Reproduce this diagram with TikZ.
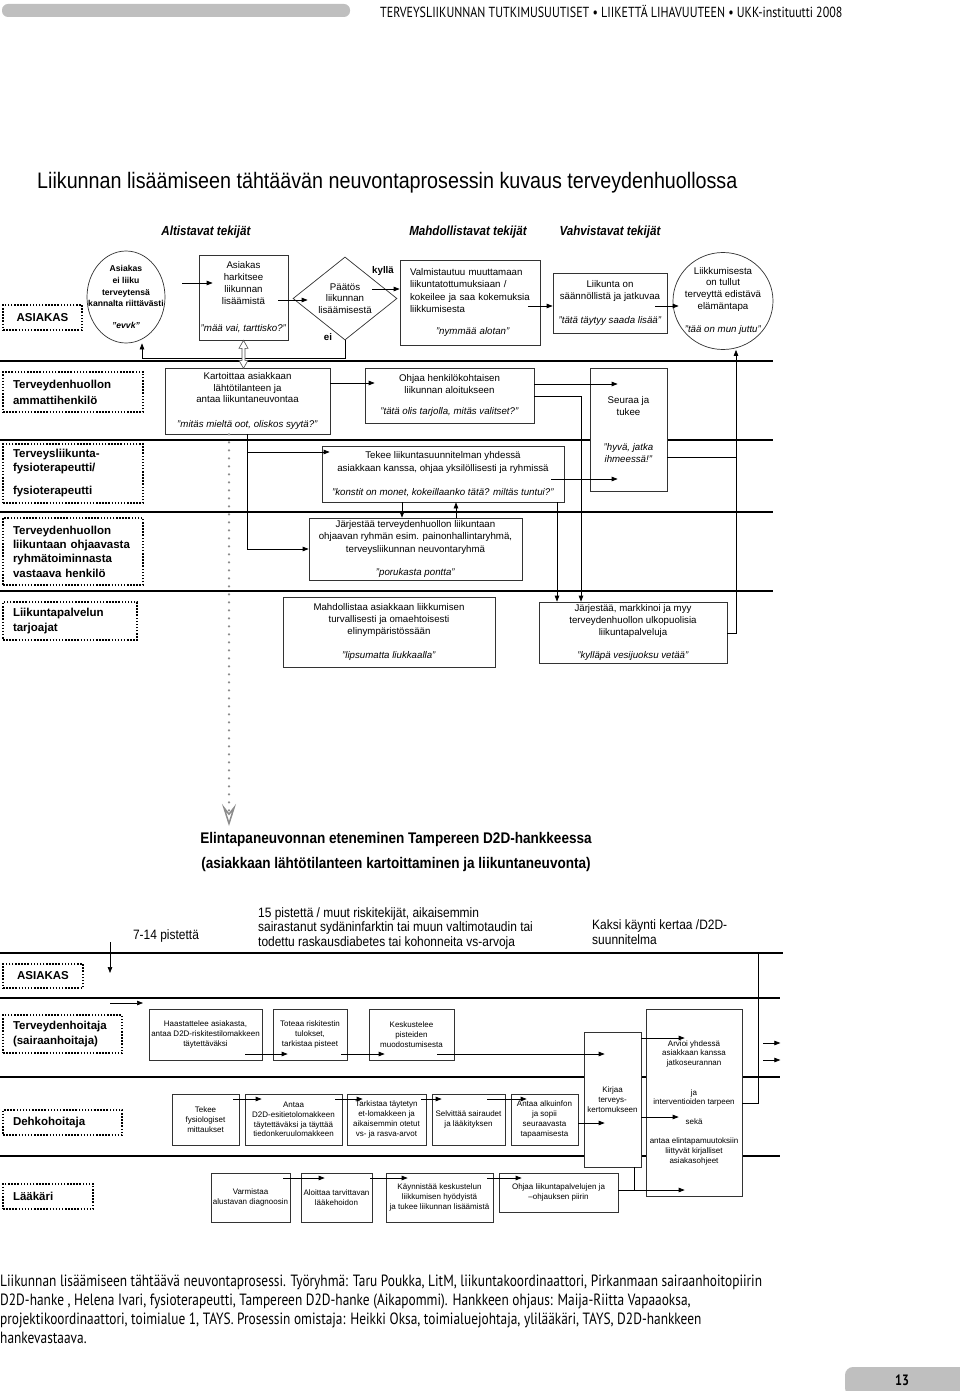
\documentclass[tikz,border=0pt]{standalone}
\usepackage{fontspec}
\setmainfont{Liberation Sans}
\newfontfamily\narrowfont{Liberation Sans}[FakeStretch=0.88]
\newfontfamily\condfont{PT Sans}[FakeStretch=0.82]
\usetikzlibrary{shapes.geometric,arrows.meta}

\begin{document}
\begin{tikzpicture}[x=1pt,y=-1pt,
  role/.style={draw,line width=1.5pt,dash pattern=on 1.5pt off 1.6pt,align=left,
    inner xsep=10pt,inner ysep=0pt,font=\fontsize{11.5}{16}\selectfont\bfseries},
  act/.style={draw=black!80,fill=white,line width=0.7pt,align=center,inner sep=0pt,
    font=\fontsize{9.7}{11.8}\selectfont},
  small/.style={act,font=\fontsize{8}{9.8}\selectfont},
  txt/.style={inner sep=0pt},
  lane/.style={line width=2pt},
  link/.style={line width=0.7pt},
  arr/.style={link,-{Triangle[length=6pt,width=4.5pt]}}]
  \useasboundingbox (0,0) rectangle (960,1391);

  \fill[black!25,rounded corners=6pt] (2,4) rectangle (350,17);
  \node[txt,anchor=west,font=\condfont\fontsize{14.6}{16}\selectfont] (lehti) at (380,11)
    {TERVEYSLIIKUNNAN TUTKIMUSUUTISET • LIIKETTÄ LIHAVUUTEEN • UKK-instituutti 2008};

  \node[txt,anchor=west,font=\narrowfont\fontsize{22.4}{26}\selectfont] (otsikko) at (37,183)
    {Liikunnan lisäämiseen tähtäävän neuvontaprosessin kuvaus terveydenhuollossa};
  \node[txt,font=\narrowfont\bfseries\itshape\fontsize{13.2}{15}\selectfont] (altist) at (206,232) {Altistavat tekijät};
  \node[txt,font=\narrowfont\bfseries\itshape\fontsize{13.2}{15}\selectfont] (mahdol) at (468,232) {Mahdollistavat tekijät};
  \node[txt,font=\narrowfont\bfseries\itshape\fontsize{13.2}{15}\selectfont] (vahvis) at (610,232) {Vahvistavat tekijät};

  \draw[lane] (0,361) -- (773,361);
  \draw[lane] (0,440) -- (773,440);
  \draw[lane] (0,512) -- (773,512);
  \draw[lane] (0,591) -- (773,591);

  \node[role,minimum width=79,minimum height=25] (asiakas) at (42.5,317.5) {ASIAKAS};
  \node[ellipse,draw=black!80,line width=0.7pt,fill=white,minimum width=78,minimum height=92,
    inner xsep=-11pt,inner ysep=-4pt,align=center,font=\fontsize{8.6}{11.8}\selectfont\bfseries] (evvk) at (126,297)
    {Asiakas\\ei liiku\\terveytensä\\kannalta riittävästi\\[10pt]\textit{”evvk”}};
  \node[act,minimum width=89,minimum height=85] (harkitsee) at (243.5,297.5)
    {Asiakas\\harkitsee\\liikunnan\\lisäämistä\\[16pt]\textit{”mää vai, tarttisko?”}};
  \node[diamond,draw=black!80,line width=0.7pt,fill=white,minimum width=104,minimum height=83,
    inner sep=0pt,aspect=1.25,align=center,font=\fontsize{9.7}{11.6}\selectfont] (paatos) at (345,298.5)
    {Päätös\\liikunnan\\lisäämisestä};
  \node[txt,font=\fontsize{9.7}{11}\selectfont\bfseries] (kylla) at (383,271) {kyllä};
  \node[txt,font=\fontsize{9.7}{11}\selectfont\bfseries] (ei) at (328,337) {ei};
  \node[act,align=left,text width=120,minimum width=140,minimum height=85,font=\fontsize{9.7}{12.4}\selectfont] (valmist) at (470,302.5)
    {Valmistautuu muuttamaan\\liikuntatottumuksiaan /\\kokeilee ja saa kokemuksia\\liikkumisesta\\[9.5pt]\hspace*{26pt}\textit{”nymmää alotan”}};
  \node[act,minimum width=114,minimum height=60] (saannol) at (610,303)
    {Liikunta on\\säännöllistä ja jatkuvaa\\[12pt]\textit{”tätä täytyy saada lisää”}};
  \node[ellipse,draw=black!80,line width=0.7pt,fill=white,minimum width=100,minimum height=97,
    inner xsep=-9pt,inner ysep=-4pt,align=center,font=\fontsize{9.7}{11.7}\selectfont] (elamant) at (723,301)
    {Liikkumisesta\\on tullut\\terveyttä edistävä\\elämäntapa\\[12pt]\textit{”tää on mun juttu”}};

  \node[role,text width=120,minimum height=40] (ammatti) at (73,392) {Terveydenhuollon\\ammattihenkilö};
  \node[role,text width=120,minimum height=59,font=\fontsize{11.5}{14}\selectfont\bfseries] (fysio) at (73,473.5)
    {Terveysliikunta-\\fysioterapeutti/\\[9pt]fysioterapeutti};
  \node[role,text width=120,minimum height=67,font=\fontsize{11.5}{14.3}\selectfont\bfseries] (ryhma) at (73,551.5)
    {Terveydenhuollon\\liikuntaan ohjaavasta\\ryhmätoiminnasta\\vastaava henkilö};
  \node[role,text width=114,minimum height=38,font=\fontsize{11.5}{15}\selectfont\bfseries] (tarjoaja) at (70,621)
    {Liikuntapalvelun\\tarjoajat};

  \node[act,minimum width=165,minimum height=66] (kartoit) at (247.5,401)
    {Kartoittaa asiakkaan\\lähtötilanteen ja\\antaa liikuntaneuvontaa\\[13pt]\textit{”mitäs mieltä oot, oliskos syytä?”}};
  \node[act,minimum width=169,minimum height=55] (ohjaa1) at (449.5,395.5)
    {Ohjaa henkilökohtaisen\\liikunnan aloitukseen\\[10pt]\textit{”tätä olis tarjolla, mitäs valitset?”}};
  \node[act,minimum width=77,minimum height=123,font=\fontsize{9.7}{12.2}\selectfont] (seuraa) at (628.5,429.5)
    {Seuraa ja\\tukee\\[23pt]\textit{”hyvä, jatka}\\\textit{ihmeessä!”}};
  \node[act,minimum width=242,minimum height=56,font=\fontsize{9.7}{12.8}\selectfont] (tekee1) at (443,474)
    {Tekee liikuntasuunnitelman yhdessä\\asiakkaan kanssa, ohjaa yksilöllisesti ja ryhmissä\\[11pt]\textit{”konstit on monet, kokeillaanko tätä? miltäs tuntui?”}};
  \node[act,minimum width=213,minimum height=62,font=\fontsize{9.7}{12.4}\selectfont] (jarj1) at (415.5,549)
    {Järjestää terveydenhuollon liikuntaan\\ohjaavan ryhmän esim. painonhallintaryhmä,\\terveysliikunnan neuvontaryhmä\\[11pt]\textit{”porukasta pontta”}};
  \node[act,minimum width=212,minimum height=70,font=\fontsize{9.7}{12.4}\selectfont] (mahd) at (389,632)
    {Mahdollistaa asiakkaan liikkumisen\\turvallisesti ja omaehtoisesti\\elinympäristössään\\[11.5pt]\textit{”lipsumatta liukkaalla”}};
  \node[act,minimum width=188,minimum height=61,font=\fontsize{9.7}{12}\selectfont] (jarj2) at (633,632.5)
    {Järjestää, markkinoi ja myy\\terveydenhuollon ulkopuolisia\\liikuntapalveluja\\[11pt]\textit{”kylläpä vesijuoksu vetää”}};

  \draw[arr] ([xshift=17]evvk.east |- 0,283) -- ([xshift=14]harkitsee.west |- 0,283);
  \draw[arr] ([xshift=-10]harkitsee.east |- 0,300) -- ([xshift=15]paatos.west |- 0,300);
  \draw[arr] ([xshift=-25]paatos.east |- 0,289) -- (valmist.west |- 0,289);
  \draw[arr] ([xshift=-12]valmist.east |- 0,306) -- (saannol.west |- 0,306);
  \draw[arr] ([xshift=-12]saannol.east |- 0,306) -- ([xshift=6]elamant.west |- 0,306);
  \draw[arr] (paatos.south) -- ++(0,18) -| ([xshift=16]evvk.south);
  \draw[draw=black!70,fill=white,line width=0.6pt] (harkitsee.south) -- ++(4.5,8) -- ++(-3,0) -- ++(0,12)
    -- ++(3,0) -- ++(-4.5,8) -- ++(-4.5,-8) -- ++(3,0) -- ++(0,-12) -- ++(-3,0) -- cycle;

  \draw[arr] (kartoit.east |- 0,383) -- ([xshift=10]ohjaa1.west |- 0,383);
  \draw[arr] (ohjaa1.east |- 0,384) -- ([xshift=28]seuraa.west |- 0,384);
  \draw[arr] (ohjaa1.east |- 0,396) -| ([xshift=-52]jarj2.north);
  \draw[arr] ([xshift=114]tekee1.south) -- ([xshift=114]tekee1.south |- jarj2.north);
  \draw[arr] (kartoit.south) |- (jarj1.west);
  \draw[arr] (kartoit.south |- 0,452) -- ([xshift=8]tekee1.west |- 0,452);
  \draw[arr] ([xshift=-13]tekee1.east |- 0,479) -- ([xshift=28]seuraa.west |- 0,479);
  \draw[link] (seuraa.east |- 0,457) -- ([xshift=13]elamant.south |- 0,457);
  \draw[arr] (jarj2.east |- 0,633) -| ([xshift=13]elamant.south);
  \draw[arr] ([xshift=-41]tekee1.south) -- ([xshift=-41]tekee1.south |- jarj1.north);
  \draw[arr] ([xshift=40.5]jarj1.north) -- ([xshift=40.5]jarj1.north |- tekee1.south);

  \coordinate (dotend) at (229,826);
  \draw[black!45,line width=2.5pt,line cap=round,dash pattern=on 0pt off 8pt,
    -{Stealth[open,length=22pt,width=14pt,inset=9pt,line width=1.5pt]}] (kartoit.south -| dotend) -- (dotend);

  \node[txt,align=center,font=\narrowfont\bfseries\fontsize{15.4}{25}\selectfont] (d2d) at (396,852.5)
    {Elintapaneuvonnan eteneminen Tampereen D2D-hankkeessa\\(asiakkaan lähtötilanteen kartoittaminen ja liikuntaneuvonta)};
  \node[txt,font=\narrowfont\fontsize{13.6}{14.5}\selectfont] (pist1) at (166,936) {7-14 pistettä};
  \node[txt,anchor=west,align=left,font=\narrowfont\fontsize{13.6}{14.5}\selectfont] (pist2) at (258,928)
    {15 pistettä / muut riskitekijät, aikaisemmin\\sairastanut sydäninfarktin tai muun valtimotaudin tai\\todettu raskausdiabetes tai kohonneita vs-arvoja};
  \node[txt,anchor=west,align=left,font=\narrowfont\fontsize{13.6}{15}\selectfont] (kaksi) at (592,932.5)
    {Kaksi käynti kertaa /D2D-\\suunnitelma};

  \draw[lane] (0,953) -- (783,953);
  \draw[lane] (0,998) -- (780,998);
  \draw[lane] (0,1077) -- (780,1077);
  \draw[lane] (0,1156) -- (780,1156);

  \node[role,minimum width=80,minimum height=24] (asiakasB) at (43,976) {ASIAKAS};
  \node[role,text width=99,minimum height=38,font=\fontsize{11.5}{15}\selectfont\bfseries] (terv) at (62.5,1034)
    {Terveydenhoitaja\\(sairaanhoitaja)};
  \node[role,text width=99,minimum height=25] (dehko) at (62.5,1122.5) {Dehkohoitaja};
  \node[role,text width=70,minimum height=25] (laakari) at (48,1196.5) {Lääkäri};

  \node[small,minimum width=113,minimum height=51] (haast) at (205.5,1034.5)
    {Haastattelee asiakasta,\\antaa D2D-riskitestilomakkeen\\täytettäväksi};
  \node[small,minimum width=74,minimum height=51] (toteaa) at (310,1034.5)
    {Toteaa riskitestin\\tulokset,\\tarkistaa pisteet};
  \node[small,minimum width=85,minimum height=51] (keskus) at (411.5,1034.5)
    {Keskustelee\\pisteiden\\muodostumisesta};
  \node[small,minimum width=67,minimum height=51] (tekee2) at (205.5,1119.5)
    {Tekee\\fysiologiset\\mittaukset};
  \node[small,minimum width=97,minimum height=51] (antaa) at (293.5,1119.5)
    {Antaa\\D2D-esitietolomakkeen\\täytettäväksi ja täyttää\\tiedonkeruulomakkeen};
  \node[small,minimum width=79,minimum height=51] (tarkist) at (386.5,1119.5)
    {Tarkistaa täytetyn\\et-lomakkeen ja\\aikaisemmin otetut\\vs- ja rasva-arvot};
  \node[small,minimum width=73,minimum height=51] (selvit) at (468.5,1119.5)
    {Selvittää sairaudet\\ja lääkityksen};
  \node[small,minimum width=67,minimum height=51] (alkuinfo) at (544.5,1119.5)
    {Antaa alkuinfon\\ja sopii\\seuraavasta\\tapaamisesta};
  \node[small,minimum width=79,minimum height=49] (varm) at (250.5,1197.5)
    {Varmistaa\\alustavan diagnoosin};
  \node[small,minimum width=71,minimum height=49] (aloit) at (336.5,1197.5)
    {Aloittaa tarvittavan\\lääkehoidon};
  \node[small,minimum width=107,minimum height=49] (kaynn) at (439.5,1197.5)
    {Käynnistää keskustelun\\liikkumisen hyödyistä\\ja tukee liikunnan lisäämistä};
  \node[small,minimum width=119,minimum height=39] (ohjaa2) at (558.5,1192.5)
    {Ohjaa liikuntapalvelujen ja\\–ohjauksen piirin};
  \node[small,minimum width=57,minimum height=135] (kirjaa) at (612.5,1099.5)
    {Kirjaa\\terveys-\\kertomukseen};
  \node[small,minimum width=96,minimum height=187] (arvioi) at (694,1102.5)
    {Arvioi yhdessä\\asiakkaan kanssa\\jatkoseurannan\\[19.5pt]ja\\interventioiden tarpeen\\[9.5pt]sekä\\[9.5pt]antaa elintapamuutoksiin\\liittyvät kirjalliset\\asiakasohjeet};

  \coordinate (tickL) at (110,942);
  \coordinate (tickR) at (758,953);
  \draw[arr] (tickL) -- ++(0,31);
  \draw[arr] (tickL |- 0,1003) -- ++(33,0);
  \draw[arr] ([xshift=-17]haast.east |- 0,1054) -- ([xshift=15]toteaa.west |- 0,1054);
  \draw[arr] ([xshift=-6]toteaa.east |- 0,1054) -- ([xshift=16]keskus.west |- 0,1054);
  \draw[arr] ([xshift=-17]keskus.east |- 0,1054) -- ([xshift=21]kirjaa.west |- 0,1054);
  \draw[arr] ([xshift=-6]tekee2.east |- 0,1099) -- ([xshift=17]antaa.west |- 0,1099);
  \draw[arr] ([xshift=-7]antaa.east |- 0,1099) -- ([xshift=16]tarkist.west |- 0,1099);
  \draw[arr] ([xshift=-5]tarkist.east |- 0,1099) -- ([xshift=10]selvit.west |- 0,1099);
  \draw[arr] ([xshift=-18]selvit.east |- 0,1099) -- ([xshift=16]alkuinfo.west |- 0,1099);
  \draw[arr] (alkuinfo.east |- 0,1123) -- ([xshift=21]kirjaa.west |- 0,1123);
  \draw[arr] ([xshift=-7]varm.east |- 0,1178) -- ([xshift=24]aloit.west |- 0,1178);
  \draw[arr] ([xshift=-2]aloit.east |- 0,1178) -- ([xshift=22]kaynn.west |- 0,1178);
  \draw[arr] ([xshift=-6]kaynn.east |- 0,1178) -- ([xshift=23]ohjaa2.west |- 0,1178);
  \draw[arr] (ohjaa2.east |- 0,1190) -- ([xshift=39]arvioi.west |- 0,1190);
  \draw[link] ([xshift=21.5]kirjaa.south) -- ([xshift=21.5]kirjaa.south |- 0,1190);
  \draw[arr] (kirjaa.east |- 0,1038) -- ([xshift=39]arvioi.west |- 0,1038);
  \draw[arr] (kirjaa.east |- 0,1117) -- ([xshift=33]arvioi.west |- 0,1117);
  \draw[link] (arvioi.east |- 0,1103) -| (tickR);
  \draw[arr] ([xshift=21]arvioi.east |- 0,1043) -- ++(17,0);
  \draw[arr] ([xshift=21]arvioi.east |- 0,1060) -- ++(17,0);

  \node[txt,anchor=north west,align=left,font=\condfont\fontsize{16.3}{19}\selectfont] (tekijat) at (0,1275)
    {Liikunnan lisäämiseen tähtäävä neuvontaprosessi. Työryhmä: Taru Poukka, LitM, liikuntakoordinaattori, Pirkanmaan sairaanhoitopiirin\\
     D2D-hanke , Helena Ivari, fysioterapeutti, Tampereen D2D-hanke (Aikapommi). Hankkeen ohjaus: Maija-Riitta Vapaaoksa,\\
     projektikoordinaattori, toimialue 1, TAYS. Prosessin omistaja: Heikki Oksa, toimialuejohtaja, ylilääkäri, TAYS, D2D-hankkeen\\
     hankevastaava.};
  \fill[black!25,rounded corners=8pt] (845,1367) rectangle (975,1396);
  \node[txt,font=\condfont\bfseries\fontsize{15}{16}\selectfont] (sivu) at (902,1380) {13};
\end{tikzpicture}
\end{document}
